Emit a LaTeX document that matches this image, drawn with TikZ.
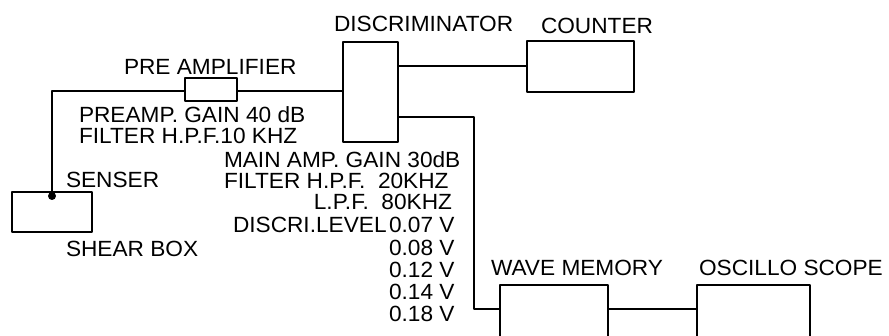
\documentclass[tikz,border=0pt]{standalone}
\usepackage{fontspec}
\setmainfont{Liberation Sans}
\newcommand\lettr[1]{\scalebox{1.03}[1.0]{#1}}
\begin{document}
\begin{tikzpicture}[x=1pt,y=-1pt,
  line width=2pt, line join=round,
  blk/.style={draw, line width=2pt},
  lbl/.style={inner sep=0pt, anchor=base west, font=\fontsize{22}{24}\selectfont},
  lblr/.style={lbl, anchor=base east}]
\clip (0,0) rectangle (889,336);
\fill[white] (0,0) rectangle (889,336);
% boxes
\draw[blk] (12,192) rectangle (92,232);
\draw[blk] (185,78) rectangle (237,101);
\draw[blk] (343,42) rectangle (398,142);
\draw[blk] (527,41) rectangle (634,92);
\draw[blk] (500,360) -- (500,285) -- (608,285) -- (608,360);
\draw[blk] (697,360) -- (697,285) -- (810,285) -- (810,360);
% connection points
\coordinate (dot) at (52,196);
\coordinate (preL) at (185,91);
\coordinate (preR) at (237,91);
\coordinate (discL) at (343,91);
\coordinate (discR1) at (398,66);
\coordinate (cntL) at (527,66);
\coordinate (discR2) at (398,117);
\coordinate (bend) at (474,309);
\coordinate (wavL) at (500,309);
\coordinate (wavR) at (608,309);
\coordinate (oscL) at (697,309);
% connectors
\draw (dot) |- (preL);
\draw (preR) -- (discL);
\draw (discR1) -- (cntL);
\draw (discR2) -| (bend) -- (wavL);
\draw (wavR) -- (oscL);
\fill (dot) circle (4);
% labels
\node[lbl] (tdisc) at (333,32) {\lettr{DISCRIMINATOR}};
\node[lbl] (tcnt) at (540,34) {\lettr{COUNTER}};
\node[lbl] (tpre) at (123,75) {\lettr{PRE AMPLIFIER}};
\node[lbl] (tpg) at (78,123) {\lettr{PREAMP. GAIN 40 dB}};
\node[lbl] (tpf) at (78,144) {\lettr{FILTER H.P.F.10 KHZ}};
\node[lbl] (tmg) at (223,168) {\lettr{MAIN AMP. GAIN 30dB}};
\node[lbl] (tmf) at (223,189) {\lettr{FILTER H.P.F.\ \ 20KHZ}};
\node[lblr] (tml) at (453,210) {\lettr{L.P.F.\ \ 80KHZ}};
\node[lbl] (tdl) at (232,233) {\lettr{DISCRI.LEVEL}};
\node[lbl] (v1) at (388,233) {\lettr{0.07 V}};
\node[lbl] (v2) at (388,256) {\lettr{0.08 V}};
\node[lbl] (v3) at (388,278) {\lettr{0.12 V}};
\node[lbl] (v4) at (388,300) {\lettr{0.14 V}};
\node[lbl] (v5) at (388,322) {\lettr{0.18 V}};
\node[lbl] (tsen) at (65,188) {\lettr{SENSER}};
\node[lbl] (tshb) at (65,257) {\lettr{SHEAR BOX}};
\node[lbl] (twav) at (490,276) {\lettr{WAVE MEMORY}};
\node[lbl] (tosc) at (698,276) {\lettr{OSCILLO SCOPE}};
\end{tikzpicture}
\end{document}
